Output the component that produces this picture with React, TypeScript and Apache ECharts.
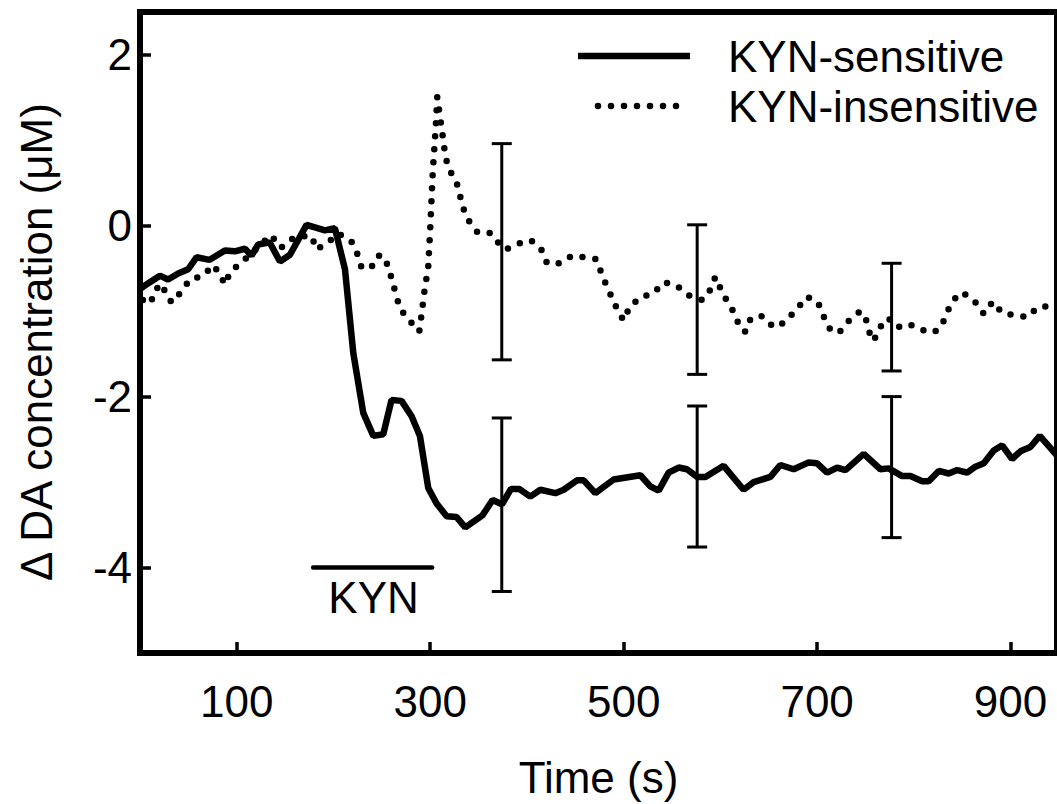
import React, { useEffect, useRef } from 'react';
import * as echarts from 'echarts';

const FONT = '"Liberation Sans", Arial, Helvetica, sans-serif';

const X_TICKS = [100, 300, 500, 700, 900];
const Y_TICKS = [-4, -2, 0, 2];

const SERIES_NAMES = ['KYN-sensitive', 'KYN-insensitive'];
const X_NAME = 'Time (s)';
const Y_NAME = 'Δ DA concentration (μM)';

// KYN-sensitive trace [time (s), ΔDA (µM)]
const sensitive = [
  [1.5, -0.73], [5, -0.7], [20.6, -0.585], [29, -0.63], [39.5, -0.56], [49.8, -0.51], [58.4, -0.37],
  [72, -0.4], [87.8, -0.29], [98, -0.3], [108.5, -0.27], [115.3, -0.35], [122.2, -0.22], [134, -0.195],
  [144.7, -0.42], [155, -0.34], [172.2, 0.01], [191.2, -0.055], [201.5, -0.03], [211.9, -0.51],
  [220.5, -1.49], [230.8, -2.19], [241.2, -2.46], [251.5, -2.44], [260, -2.04], [270.4, -2.05],
  [280.8, -2.23], [289.4, -2.46], [298, -3.07], [306.6, -3.25], [317, -3.4], [327.3, -3.41],
  [336.3, -3.53], [354, -3.39], [364.5, -3.21], [374.2, -3.26], [383.5, -3.08], [392, -3.08],
  [403.5, -3.17], [413.9, -3.09], [429.4, -3.13], [438, -3.09], [451.8, -2.98], [458.7, -2.98],
  [470.7, -3.13], [489.7, -2.97], [517.3, -2.92], [527.6, -3.05], [536.2, -3.1], [546.5, -2.89],
  [556.9, -2.83], [565.5, -2.85], [575.9, -2.94], [584.5, -2.94], [603.4, -2.81], [624, -3.09],
  [634.4, -3.0], [651.7, -2.94], [662, -2.8], [675.8, -2.85], [691.3, -2.77], [700, -2.78],
  [710.3, -2.89], [720.7, -2.83], [729.3, -2.86], [748.2, -2.67], [765.4, -2.85], [774, -2.84],
  [787.9, -2.93], [796.5, -2.93], [808.6, -2.99], [815.4, -2.99], [825.8, -2.87], [836.1, -2.9],
  [844.8, -2.86], [855.1, -2.89], [863.7, -2.82], [872.3, -2.78], [882.6, -2.63], [891.3, -2.57],
  [901.6, -2.73], [910.2, -2.64], [920.5, -2.59], [930.2, -2.46], [939.5, -2.58], [948, -2.69],
];

// KYN-insensitive trace [time (s), ΔDA (µM)]
const insensitive = [
  [3, -0.87], [11.2, -0.91], [14.7, -0.76], [23, -0.68], [27.4, -0.83], [33.3, -0.9], [42.9, -0.77],
  [51.6, -0.63], [65.4, -0.585], [75.7, -0.46], [82.6, -0.57], [87.8, -0.69], [93, -0.55],
  [101.6, -0.46], [111.9, -0.36], [124, -0.23], [135.4, -0.11], [145.7, -0.26], [160.2, -0.13],
  [177.4, -0.12], [182.5, -0.28], [194.6, -0.195], [205, -0.09], [218.7, -0.19], [224.6, -0.33],
  [229, -0.49], [238.8, -0.495], [246.3, -0.35], [252.5, -0.36], [257.4, -0.51], [265, -0.82],
  [268.7, -0.97], [279, -1.115], [288.7, -1.24], [290.5, -1.09], [293.9, -0.78], [298, -0.48],
  [300.1, -0.02], [302.5, 0.59], [304.2, 0.89], [306, 1.2], [307.3, 1.505], [310.1, 1.28],
  [313.9, 0.97], [315.6, 0.82], [319, 0.667], [327, 0.52], [330.4, 0.37], [333.9, 0.21],
  [339.7, 0.06], [349, -0.08], [362.2, -0.085], [369.7, -0.19], [377.7, -0.28], [390.8, -0.21],
  [404.2, -0.17], [414.9, -0.28], [420.8, -0.44], [433.5, -0.44], [446.9, -0.35], [460.4, -0.37],
  [471.4, -0.39], [481.8, -0.69], [493.8, -0.99], [500, -1.11], [506.2, -0.95], [518, -0.83],
  [530, -0.8], [541.8, -0.66], [554.5, -0.7], [568.3, -0.82], [581.7, -0.87], [589, -0.76],
  [594.8, -0.6], [600.7, -0.75], [607.6, -0.9], [615.5, -1.04], [620, -1.2], [625.9, -1.24],
  [631.5, -1.08], [643.4, -1.06], [655.1, -1.19], [666.5, -1.13], [678.6, -0.98], [689.6, -0.83],
  [701, -0.9], [705.8, -1.04], [712.4, -1.2], [722, -1.26], [732.7, -1.115], [744.8, -1.0],
  [751, -1.11], [754.4, -1.26], [758.5, -1.35], [764.1, -1.2], [773.4, -1.08], [783, -1.19],
  [794.7, -1.15], [808.2, -1.22], [820.6, -1.25], [828.5, -1.18], [833.7, -1.03], [839.9, -0.88],
  [849.9, -0.78], [862.6, -0.88], [872.3, -1.03], [881.6, -0.89], [891.3, -1.02], [904.3, -1.05],
  [917.8, -1.07], [927.5, -0.96], [940.2, -0.94], [948, -0.96],
];

// Error bars
const errX = [374, 576, 777];
const sensitiveLow = [-4.28, -3.76, -3.65];
const sensitiveHigh = [-2.25, -2.11, -2.0];
const insensitiveLow = [-1.57, -1.74, -1.7];
const insensitiveHigh = [0.96, 0.01, -0.44];

// KYN application period
const kynPeriod = [179, 302];
const kynLevel = -4;
const kynText = 'KYN';

export default function App() {
  const ref = useRef<HTMLDivElement>(null);

  useEffect(() => {
    const chart = echarts.init(ref.current!, null, { renderer: 'svg' });

    const errData = errX
      .map((x, i) => [x, sensitiveLow[i], sensitiveHigh[i]])
      .concat(errX.map((x, i) => [x, insensitiveLow[i], insensitiveHigh[i]]));

    const kynBar = kynPeriod.map((t) => [t, kynLevel]);

    const legendY1 = 56;
    const legendY2 = 106;

    const textStyle = { color: '#000', fontSize: 44, fontFamily: FONT };

    chart.setOption({
      animation: false,
      backgroundColor: '#fff',
      grid: {
        left: 140,
        right: 0,
        top: 12,
        bottom: 151,
        show: true,
        borderColor: '#000',
        borderWidth: 6,
        backgroundColor: 'transparent',
      },
      xAxis: {
        type: 'value',
        min: 0,
        max: 948,
        axisLine: { show: false, onZero: false },
        splitLine: { show: false },
        axisTick: {
          show: true,
          inside: true,
          length: 11,
          customValues: X_TICKS,
          lineStyle: { color: '#000', width: 3.5 },
        },
        axisLabel: { customValues: X_TICKS, margin: 26, ...textStyle },
        name: X_NAME,
        nameLocation: 'middle',
        nameGap: 102,
        nameTextStyle: textStyle,
      },
      yAxis: {
        type: 'value',
        min: -5,
        max: 2.5,
        axisLine: { show: false, onZero: false },
        splitLine: { show: false },
        axisTick: {
          show: true,
          inside: true,
          length: 11,
          customValues: Y_TICKS,
          lineStyle: { color: '#000', width: 3.5 },
        },
        axisLabel: { customValues: Y_TICKS, margin: 8, ...textStyle },
      },
      series: [
        {
          name: SERIES_NAMES[0],
          type: 'line',
          data: sensitive,
          showSymbol: false,
          lineStyle: { color: '#000', width: 6.5 },
          z: 3,
        },
        {
          name: SERIES_NAMES[1],
          type: 'line',
          data: insensitive,
          showSymbol: false,
          lineStyle: { color: '#000', width: 6.5, type: [0, 13], cap: 'round' },
          z: 3,
        },
        {
          type: 'custom',
          data: errData,
          encode: { x: 0, y: [1, 2] },
          z: 4,
          renderItem: (params: any, api: any) => {
            const x = api.value(0);
            const pLo = api.coord([x, api.value(1)]);
            const pHi = api.coord([x, api.value(2)]);
            const hw = 10;
            const style = { stroke: '#000', lineWidth: 3 };
            return {
              type: 'group',
              children: [
                { type: 'line', shape: { x1: pHi[0], y1: pHi[1], x2: pLo[0], y2: pLo[1] }, style },
                { type: 'line', shape: { x1: pHi[0] - hw, y1: pHi[1], x2: pHi[0] + hw, y2: pHi[1] }, style },
                { type: 'line', shape: { x1: pLo[0] - hw, y1: pLo[1], x2: pLo[0] + hw, y2: pLo[1] }, style },
              ],
            };
          },
        },
        {
          type: 'line',
          data: kynBar,
          showSymbol: false,
          lineStyle: { color: '#000', width: 4.5, cap: 'round' },
          z: 3,
        },
      ],
    });

    const kynPos = chart.convertToPixel({ gridIndex: 0 }, [
      (kynPeriod[0] + kynPeriod[1]) / 2 + 1,
      kynLevel,
    ]) as number[];

    chart.setOption({
      graphic: [
        {
          type: 'text',
          x: 36,
          y: 342,
          rotation: Math.PI / 2,
          style: {
            text: Y_NAME,
            fill: '#000',
            fontSize: 44,
            fontFamily: FONT,
            align: 'center',
            verticalAlign: 'middle',
          },
        },
        {
          type: 'text',
          x: kynPos[0],
          y: kynPos[1] + 8,
          style: {
            text: kynText,
            fill: '#000',
            fontSize: 44,
            fontFamily: FONT,
            align: 'center',
            verticalAlign: 'top',
          },
        },
        {
          type: 'line',
          shape: { x1: 578, y1: legendY1, x2: 690, y2: legendY1 },
          style: { stroke: '#000', lineWidth: 6.5 },
        },
        {
          type: 'text',
          x: 728,
          y: legendY1,
          style: {
            text: SERIES_NAMES[0],
            fill: '#000',
            fontSize: 44,
            fontFamily: FONT,
            verticalAlign: 'middle',
            align: 'left',
          },
        },
        {
          type: 'line',
          shape: { x1: 598, y1: legendY2, x2: 689, y2: legendY2 },
          style: { stroke: '#000', lineWidth: 6.5, lineDash: [0, 13], lineCap: 'round' },
        },
        {
          type: 'text',
          x: 728,
          y: legendY2,
          style: {
            text: SERIES_NAMES[1],
            fill: '#000',
            fontSize: 44,
            fontFamily: FONT,
            verticalAlign: 'middle',
            align: 'left',
          },
        },
      ],
    });

    return () => chart.dispose();
  }, []);

  return (
    <div
      ref={ref}
      style={{ position: 'fixed', left: 0, top: 0, width: 1057, height: 804, background: '#fff' }}
    />
  );
}
